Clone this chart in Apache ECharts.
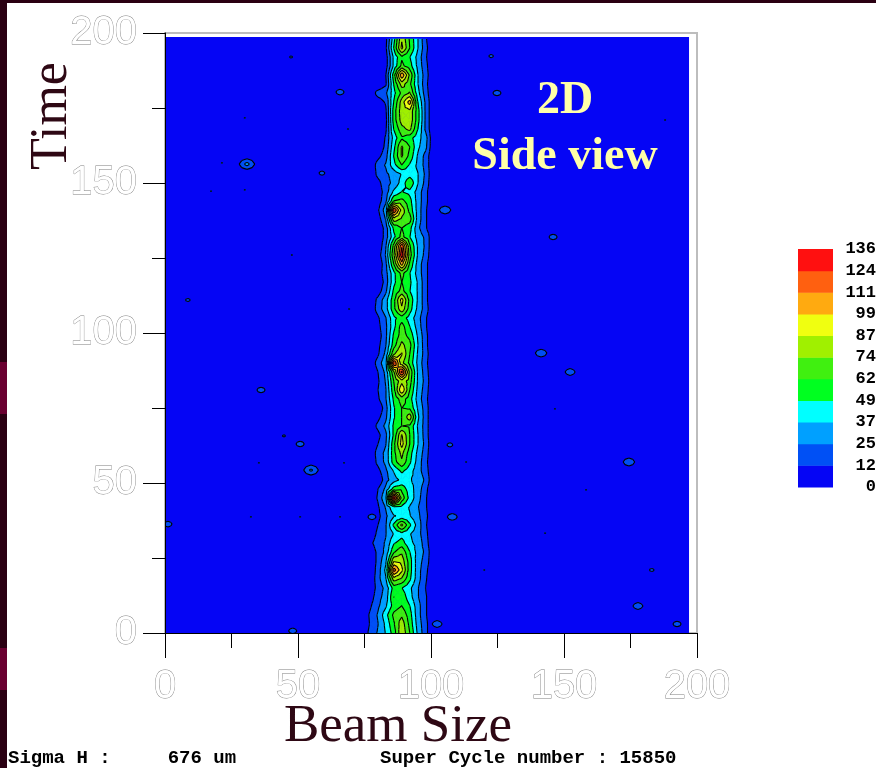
<!DOCTYPE html>
<html>
<head>
<meta charset="utf-8">
<script src="https://cdn.jsdelivr.net/npm/echarts@6/dist/echarts.min.js"></script>
<style>
  html, body { margin: 0; padding: 0; background: #fff; }
  #chart { width: 876px; height: 768px; }
</style>
</head>
<body>
<div id="chart"></div>
<script>
// Contour levels of the beam profile and their fill colours (bottom band first)
const levels = [0, 12.36, 24.73, 37.09, 49.45, 61.82, 74.18, 86.55, 98.91, 111.27, 123.64, 136];
const levelLabels = ['0', '12', '25', '37', '49', '62', '74', '87', '99', '111', '124', '136'];
const levelColors = ['#0505F5', '#0050F5', '#00A0FF', '#00FFFF', '#00FF20', '#40F010',
                     '#A0F000', '#F0FF10', '#FFAA10', '#FF6010', '#FF1010'];

// Extent of the measured field (beam size x time)
const fieldX = [0, 197];
const fieldY = [0, 198.7];

// Sampled beam core: columns in beam-size units, rows in time units
const bandX = [74, 77, 80, 83, 86, 89, 92, 95, 98, 101, 104];
const bandY = [0, 3, 6, 9, 12, 15, 18, 21, 24, 27, 30, 33, 36, 39, 42, 45, 48, 51, 54, 57,
               60, 63, 66, 69, 72, 75, 78, 81, 84, 87, 90, 93, 96, 99, 102, 105, 108, 111,
               114, 117, 120, 123, 126, 129, 132, 135, 138, 141, 144, 147, 150, 153, 156,
               159, 162, 165, 168, 171, 174, 177, 180, 183, 186, 189, 192, 195, 198];
const bandZ = [
  [0, 16, 26, 38, 55, 85, 62, 35, 16, 0, 0],
  [0, 13, 24, 40, 60, 82, 58, 32, 16, 0, 0],
  [0, 14, 26, 45, 65, 72, 55, 30, 14, 0, 0],
  [0, 10, 22, 35, 55, 62, 50, 30, 14, 0, 0],
  [0, 5, 20, 30, 62, 58, 42, 26, 14, 0, 0],
  [0, 0, 18, 28, 55, 50, 40, 26, 12, 0, 0],
  [0, 0, 20, 36, 80, 72, 52, 30, 14, 0, 0],
  [0, 0, 18, 40, 118, 90, 55, 30, 16, 0, 0],
  [0, 0, 16, 35, 85, 82, 55, 30, 20, 0, 0],
  [0, 0, 16, 28, 60, 72, 50, 32, 22, 0, 0],
  [0, 8, 20, 26, 48, 55, 40, 33, 18, 0, 0],
  [0, 0, 16, 24, 38, 45, 38, 30, 16, 0, 0],
  [0, 0, 12, 24, 52, 78, 52, 32, 14, 0, 0],
  [0, 0, 8, 22, 36, 40, 38, 28, 16, 0, 0],
  [0, 0, 10, 26, 48, 46, 36, 26, 14, 0, 0],
  [0, 0, 14, 36, 135, 70, 45, 30, 14, 0, 0],
  [0, 0, 12, 28, 55, 58, 42, 32, 16, 0, 0],
  [0, 0, 0, 20, 32, 40, 38, 34, 22, 0, 0],
  [0, 0, 8, 22, 38, 52, 42, 30, 18, 0, 0],
  [0, 0, 16, 28, 56, 72, 52, 32, 16, 0, 0],
  [0, 0, 18, 28, 58, 78, 55, 34, 18, 0, 0],
  [0, 0, 12, 24, 58, 92, 62, 38, 20, 0, 0],
  [0, 0, 8, 22, 52, 88, 62, 38, 18, 0, 0],
  [0, 0, 16, 28, 52, 62, 60, 36, 18, 0, 0],
  [0, 0, 8, 22, 48, 62, 82, 40, 18, 0, 0],
  [0, 0, 0, 20, 48, 62, 60, 36, 18, 0, 0],
  [0, 0, 10, 24, 52, 68, 55, 32, 16, 0, 0],
  [0, 0, 12, 24, 58, 98, 62, 34, 18, 0, 0],
  [0, 0, 10, 26, 62, 82, 68, 36, 20, 0, 0],
  [0, 0, 12, 28, 72, 128, 72, 36, 18, 0, 0],
  [0, 0, 18, 34, 125, 78, 58, 34, 16, 0, 0],
  [0, 0, 10, 28, 72, 88, 62, 36, 18, 0, 0],
  [0, 0, 8, 24, 56, 78, 66, 38, 16, 0, 0],
  [0, 0, 5, 22, 52, 68, 58, 36, 16, 0, 0],
  [0, 0, 8, 22, 46, 68, 50, 32, 14, 0, 0],
  [0, 0, 10, 24, 46, 56, 44, 30, 14, 0, 0],
  [0, 0, 18, 32, 58, 84, 55, 34, 18, 0, 0],
  [0, 0, 16, 32, 58, 92, 58, 36, 16, 0, 0],
  [0, 0, 5, 22, 52, 66, 50, 36, 16, 0, 0],
  [0, 0, 0, 18, 46, 62, 52, 36, 16, 0, 0],
  [0, 0, 5, 20, 46, 66, 50, 32, 16, 0, 0],
  [0, 0, 0, 22, 62, 105, 60, 32, 16, 0, 0],
  [0, 0, 5, 26, 72, 132, 68, 36, 20, 0, 0],
  [0, 0, 0, 24, 66, 122, 64, 36, 22, 0, 0],
  [0, 0, 0, 18, 46, 66, 50, 32, 22, 0, 0],
  [0, 0, 0, 18, 52, 62, 54, 28, 14, 0, 0],
  [0, 0, 5, 26, 82, 72, 68, 32, 14, 0, 0],
  [0, 0, 10, 32, 125, 82, 58, 32, 14, 0, 0],
  [0, 0, 5, 22, 62, 66, 54, 32, 16, 0, 0],
  [0, 0, 5, 18, 40, 50, 46, 32, 16, 0, 0],
  [0, 0, 8, 20, 28, 42, 60, 38, 20, 0, 0],
  [0, 0, 16, 22, 30, 38, 44, 38, 22, 0, 0],
  [0, 0, 18, 26, 45, 62, 48, 34, 20, 0, 0],
  [0, 0, 8, 20, 50, 76, 58, 36, 20, 0, 0],
  [0, 0, 0, 16, 46, 76, 62, 40, 28, 0, 0],
  [0, 0, 0, 14, 42, 60, 54, 42, 30, 0, 0],
  [0, 0, 0, 10, 50, 70, 78, 50, 22, 0, 0],
  [0, 0, 0, 8, 55, 80, 84, 55, 22, 0, 0],
  [0, 0, 0, 10, 55, 82, 84, 55, 22, 0, 0],
  [0, 0, 5, 14, 50, 80, 105, 50, 22, 0, 0],
  [0, 0, 18, 22, 45, 65, 75, 42, 18, 0, 0],
  [0, 0, 0, 10, 50, 80, 65, 38, 16, 0, 0],
  [0, 0, 0, 12, 56, 110, 72, 38, 18, 0, 0],
  [0, 0, 0, 6, 40, 65, 55, 34, 16, 0, 0],
  [0, 0, 0, 6, 40, 60, 50, 33, 14, 0, 0],
  [0, 0, 0, 10, 50, 90, 62, 38, 16, 0, 0],
  [0, 0, 0, 8, 45, 85, 60, 38, 14, 0, 0]
];

// Isolated hits away from the beam core
const spotX = [47.4, 122.6, 65.8, 124.8, 30, 68.8, 188, 21.4, 30.8, 17.3, 30, 59, 105.3, 145.9,
               47.7, 8.6, 69.2, 141.4, 152.3, 36.1, 146.6, 44.7, 50.8, 54.9, 67.3, 35.3, 107.1,
               113.2, 174.4, 158.3, 1.1, 32.3, 50.8, 65.8, 77.8, 108, 142.9, 120, 183, 177.8,
               192.5, 48, 102.3];
const spotY = [192, 192.3, 180.3, 180, 171.7, 168, 171, 156.7, 156.3, 147.3, 147.7, 153.3, 141,
               132, 126, 111, 108, 93.3, 87, 81, 74.7, 65.7, 63, 54.3, 56.7, 56.7, 62.7, 57, 57,
               47.7, 36.3, 38.7, 38.7, 38.7, 38.7, 38.7, 33.3, 21, 21, 9, 3, 0.7, 3];
const spotPeak = [14, 15, 18, 18, 13, 13, 13, 13, 30, 13, 13, 16, 22, 18, 13, 15, 13, 22, 20,
                  18, 13, 14, 18, 28, 13, 13, 16, 13, 22, 13, 18, 13, 13, 13, 18, 20, 13, 13,
                  15, 20, 18, 18, 20];

// ---- contour drawing helpers ----
function clipPoly(poly, level, keepAbove) {
  const out = [];
  for (let i = 0; i < poly.length; i++) {
    const a = poly[i], b = poly[(i + 1) % poly.length];
    const ina = keepAbove ? a[2] >= level : a[2] < level;
    const inb = keepAbove ? b[2] >= level : b[2] < level;
    if (ina) out.push(a);
    if (ina !== inb) {
      const t = (level - a[2]) / (b[2] - a[2]);
      out.push([a[0] + t * (b[0] - a[0]), a[1] + t * (b[1] - a[1]), level]);
    }
  }
  return out;
}

// The lowest band is the field background, so only bands 1..n are filled here
function cellShapes(c00, c10, c01, c11, mode, out) {
  const cc = [(c00[0] + c10[0] + c01[0] + c11[0]) / 4,
              (c00[1] + c10[1] + c01[1] + c11[1]) / 4,
              (c00[2] + c10[2] + c01[2] + c11[2]) / 4];
  const tris = [[c00, c10, cc], [c10, c11, cc], [c11, c01, cc], [c01, c00, cc]];
  const nb = levelColors.length;
  tris.forEach(function (tri) {
    if (mode === 'fill') {
      for (let k = 1; k < nb; k++) {
        const lo = levels[k], hi = (k === nb - 1) ? Infinity : levels[k + 1];
        let poly = clipPoly(tri, lo, true);
        if (poly.length < 3) continue;
        if (hi !== Infinity) poly = clipPoly(poly, hi, false);
        if (poly.length < 3) continue;
        out.push({
          type: 'polygon', silent: true,
          shape: { points: poly.map(function (p) { return [p[0], p[1]]; }) },
          style: { fill: levelColors[k], stroke: levelColors[k], lineWidth: 0.6 }
        });
      }
    } else {
      for (let k = 1; k < levels.length - 1; k++) {
        const L = levels[k];
        const pts = [];
        for (let e = 0; e < 3; e++) {
          const a = tri[e], b = tri[(e + 1) % 3];
          if ((a[2] < L) !== (b[2] < L)) {
            const t = (L - a[2]) / (b[2] - a[2]);
            pts.push([a[0] + t * (b[0] - a[0]), a[1] + t * (b[1] - a[1])]);
          }
        }
        if (pts.length === 2) {
          out.push({
            type: 'line', silent: true,
            shape: { x1: pts[0][0], y1: pts[0][1], x2: pts[1][0], y2: pts[1][1] },
            style: { stroke: '#000', lineWidth: 1.1 }
          });
        }
      }
    }
  });
}

function pt(api, x, y, v) {
  const p = api.coord([x, y]);
  return [p[0], p[1], v];
}

// Cells of the sampled core: [x0, y0, x1, y1, v00, v10, v01, v11]
const bandCells = [];
for (let j = 0; j < bandY.length - 1; j++) {
  for (let i = 0; i < bandX.length - 1; i++) {
    bandCells.push([bandX[i], bandY[j], bandX[i + 1], bandY[j + 1],
      bandZ[j][i], bandZ[j][i + 1], bandZ[j + 1][i], bandZ[j + 1][i + 1]]);
  }
}
const spotData = spotX.map(function (x, i) { return [x, spotY[i], spotPeak[i]]; });

function bandRender(mode) {
  return function (params, api) {
    const c00 = pt(api, api.value(0), api.value(1), api.value(4));
    const c10 = pt(api, api.value(2), api.value(1), api.value(5));
    const c01 = pt(api, api.value(0), api.value(3), api.value(6));
    const c11 = pt(api, api.value(2), api.value(3), api.value(7));
    const children = [];
    cellShapes(c00, c10, c01, c11, mode, children);
    return { type: 'group', children: children };
  };
}

// Half-size (data units) of the neighbourhood around each isolated hit
const spotHalfX = 5, spotHalfY = 3;
function spotRender(mode) {
  return function (params, api) {
    const x = api.value(0), y = api.value(1), p = api.value(2);
    const children = [];
    const gx = [x - spotHalfX, x, x + spotHalfX];
    const gy = [y - spotHalfY, y, y + spotHalfY];
    const v = function (ii, jj) { return (ii === 1 && jj === 1) ? p : 0; };
    for (let j = 0; j < 2; j++) {
      for (let i = 0; i < 2; i++) {
        cellShapes(pt(api, gx[i], gy[j], v(i, j)), pt(api, gx[i + 1], gy[j], v(i + 1, j)),
                   pt(api, gx[i], gy[j + 1], v(i, j + 1)), pt(api, gx[i + 1], gy[j + 1], v(i + 1, j + 1)),
                   mode, children);
      }
    }
    return { type: 'group', children: children };
  };
}

// ---- decorations: colour scale, titles, footer ----
const graphics = [
  { type: 'rect', shape: { x: 0, y: 0, width: 7, height: 768 }, style: { fill: '#2A0012' } },
  { type: 'rect', shape: { x: 0, y: 362, width: 7, height: 52 }, style: { fill: '#6A0030' } },
  { type: 'rect', shape: { x: 0, y: 648, width: 7, height: 42 }, style: { fill: '#6A0030' } },
  { type: 'rect', shape: { x: 0, y: 0, width: 876, height: 3 }, style: { fill: '#2A0012' } },
  { type: 'text', x: 52, y: 116, rotation: Math.PI / 2,
    style: { text: 'Time', font: '52px "Liberation Serif"', fill: '#2E0814', align: 'center', verticalAlign: 'middle' } },
  { type: 'text', x: 398, y: 727,
    style: { text: 'Beam Size', font: '53px "Liberation Serif"', fill: '#2E0814', align: 'center', verticalAlign: 'middle' } },
  { type: 'text', x: 565, y: 101, z: 10,
    style: { text: '2D', font: 'bold 46px "Liberation Serif"', fill: '#FFFFA8', align: 'center', verticalAlign: 'middle' } },
  { type: 'text', x: 565, y: 157, z: 10,
    style: { text: 'Side view', font: 'bold 46px "Liberation Serif"', fill: '#FFFFA8', align: 'center', verticalAlign: 'middle' } },
  { type: 'text', x: 8, y: 758,
    style: { text: 'Sigma H :     676 um', font: 'bold 19px "Liberation Mono"', fill: '#000', align: 'left', verticalAlign: 'middle' } },
  { type: 'text', x: 380, y: 758,
    style: { text: 'Super Cycle number : 15850', font: 'bold 19px "Liberation Mono"', fill: '#000', align: 'left', verticalAlign: 'middle' } }
];
const legTop = 249, legBottom = 487, legLeft = 798, legWidth = 35;
const nBands = levelColors.length;
const legStep = (legBottom - legTop) / nBands;
levelColors.forEach(function (c, k) {
  graphics.push({ type: 'rect', shape: { x: legLeft, y: legBottom - (k + 1) * legStep, width: legWidth, height: legStep + 0.5 },
                  style: { fill: c } });
});
levelLabels.forEach(function (t, k) {
  graphics.push({ type: 'text', x: 876, y: legBottom - k * legStep,
                  style: { text: t, font: 'bold 17px "Liberation Mono"', fill: '#000', align: 'right', verticalAlign: 'middle' } });
});

const axisText = { fontSize: 40, fontFamily: '"Liberation Sans", Arial, sans-serif', color: '#fff',
                   textBorderColor: '#808080', textBorderWidth: 0.8 };

const chart = echarts.init(document.getElementById('chart'), null, { renderer: 'canvas' });
chart.setOption({
  animation: false,
  backgroundColor: '#fff',
  grid: { left: 165, right: 179, top: 33, bottom: 135, show: true, borderColor: '#bdbdbd', borderWidth: 2,
          backgroundColor: 'transparent' },
  xAxis: {
    type: 'value', min: 0, max: 200, interval: 50, z: 5,
    axisLine: { show: true, onZero: false, lineStyle: { color: '#000', width: 1 } },
    axisTick: { show: true, length: 25, lineStyle: { color: '#000' } },
    minorTick: { show: true, splitNumber: 2, length: 15, lineStyle: { color: '#000' } },
    splitLine: { show: false },
    axisLabel: Object.assign({ margin: 34 }, axisText)
  },
  yAxis: {
    type: 'value', min: 0, max: 200, interval: 50, z: 5,
    axisLine: { show: true, onZero: false, lineStyle: { color: '#000', width: 1 } },
    axisTick: { show: true, length: 22, lineStyle: { color: '#000' } },
    minorTick: { show: true, splitNumber: 2, length: 13, lineStyle: { color: '#000' } },
    splitLine: { show: false },
    axisLabel: Object.assign({ margin: 28 }, axisText)
  },
  graphic: graphics,
  series: [
    {
      type: 'custom', name: 'field', clip: true, z: 1,
      data: [[fieldX[0], fieldY[0], fieldX[1], fieldY[1]]],
      encode: { x: [0, 2], y: [1, 3] },
      renderItem: function (params, api) {
        const a = api.coord([api.value(0), api.value(1)]);
        const b = api.coord([api.value(2), api.value(3)]);
        return { type: 'rect', shape: { x: a[0], y: b[1], width: b[0] - a[0], height: a[1] - b[1] },
                 style: { fill: levelColors[0] } };
      }
    },
    { type: 'custom', name: 'core', clip: true, z: 2, data: bandCells,
      encode: { x: [0, 2], y: [1, 3] }, renderItem: bandRender('fill') },
    { type: 'custom', name: 'hits', clip: true, z: 2, data: spotData,
      encode: { x: 0, y: 1 }, renderItem: spotRender('fill') },
    { type: 'custom', name: 'core contours', clip: true, z: 3, data: bandCells,
      encode: { x: [0, 2], y: [1, 3] }, renderItem: bandRender('line') },
    { type: 'custom', name: 'hit contours', clip: true, z: 3, data: spotData,
      encode: { x: 0, y: 1 }, renderItem: spotRender('line') }
  ]
});
</script>
</body>
</html>
